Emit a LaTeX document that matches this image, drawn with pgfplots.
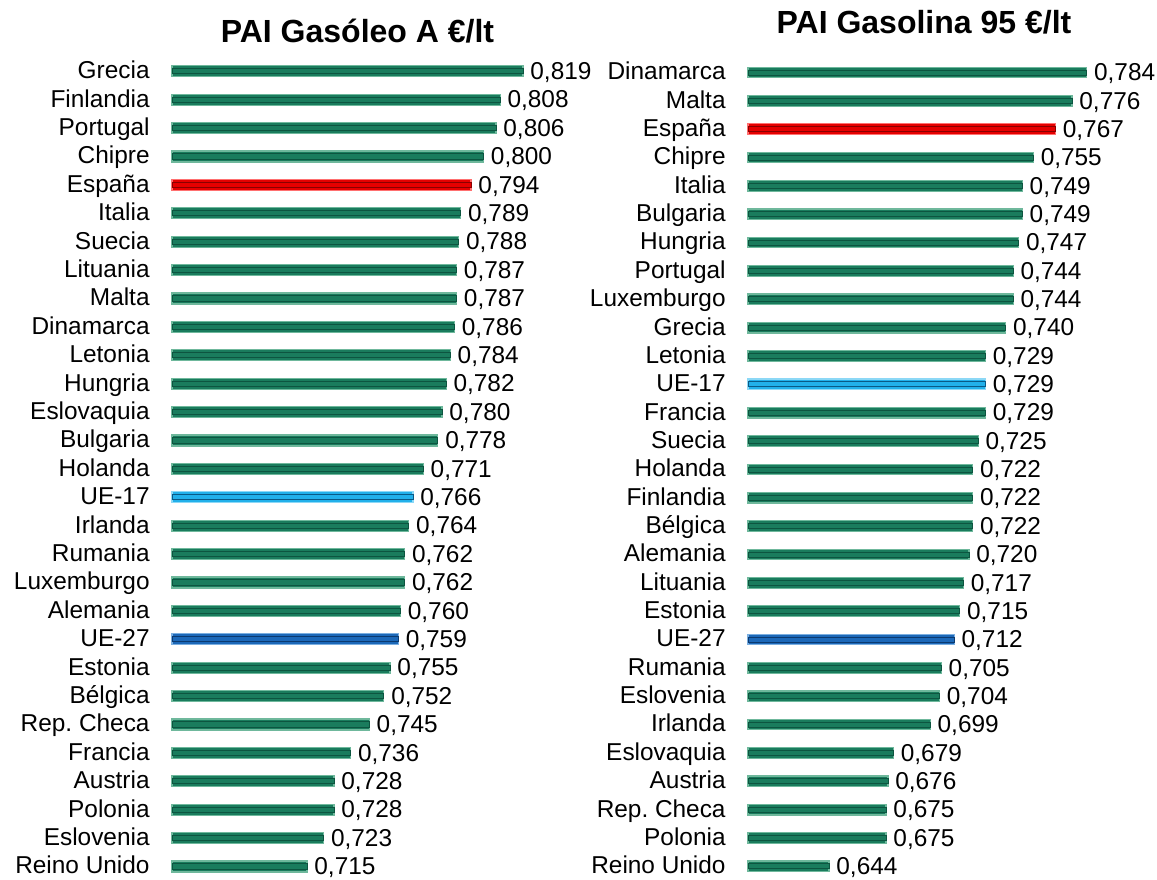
\documentclass[border=0pt]{standalone}
\usepackage{fontspec}
\setmainfont{Liberation Sans}
\usepackage{pgfplots}
\pgfplotsset{compat=1.18}
\usepackage{pgfplotstable}

\definecolor{gEdge}{HTML}{0D5540}
\definecolor{gMid}{HTML}{1A7C5D}
\definecolor{gLight}{HTML}{6FB89C}
\definecolor{rEdge}{HTML}{8A0000}
\definecolor{rMid}{HTML}{E50000}
\definecolor{rLight}{HTML}{FF7070}
\definecolor{lbEdge}{HTML}{0A5A86}
\definecolor{lbMid}{HTML}{22B0EA}
\definecolor{lbLight}{HTML}{8CD8F6}
\definecolor{dbEdge}{HTML}{0B3A70}
\definecolor{dbMid}{HTML}{1C68B8}
\definecolor{dbLight}{HTML}{7AAEE0}

% idx value (0 = top row)
\pgfplotstableread{
idx val
0  0.819
1  0.808
2  0.806
3  0.800
5  0.789
6  0.788
7  0.787
8  0.787
9  0.786
10 0.784
11 0.782
12 0.780
13 0.778
14 0.771
16 0.764
17 0.762
18 0.762
19 0.760
21 0.755
22 0.752
23 0.745
24 0.736
25 0.728
26 0.728
27 0.723
28 0.715
}\gasoleo

\pgfplotstableread{
idx val
0  0.784
1  0.776
3  0.755
4  0.749
5  0.749
6  0.747
7  0.744
8  0.744
9  0.740
10 0.729
12 0.729
13 0.725
14 0.722
15 0.722
16 0.722
17 0.720
18 0.717
19 0.715
21 0.705
22 0.704
23 0.699
24 0.679
25 0.676
26 0.675
27 0.675
28 0.644
}\gasolina

\pgfplotsset{
  panel/.style={
    scale only axis,
    y dir=reverse,
    ymin=-0.5, ymax=28.5,
    ytick={0,...,28},
    xtick=\empty,
    axis line style={draw=none},
    major tick length=0pt,
    tick style={draw=none},
    yticklabel style={font=\fontsize{12.2}{14}\selectfont, inner sep=0pt, anchor=east,
      text height=8.8pt, text depth=2.6pt, xshift=-11pt, yshift=-0.6pt},
    point meta=x,
    clip=false,
  },
  vals/.style={
    nodes near coords={\pgfmathprintnumber[fixed, zerofill, precision=3, use comma]{\pgfplotspointmeta}},
    every node near coord/.append style={font=\fontsize{12.2}{14}\selectfont, anchor=west,
      inner sep=0pt, text height=8.8pt, text depth=2.6pt, xshift=3.5pt, yshift=-1pt},
    /pgf/number format/assume math mode=true,
  },
  % outer bar: body colour with light rim; inner bar: dark stripes
  outer/.style n args={2}{xbar, bar shift=0pt, fill=#1, draw=#2, line width=0.6pt},
  inner/.style n args={2}{xbar, bar shift=0pt, fill=#1, draw=#2, line width=0.4pt},
}

\begin{document}
\begin{tikzpicture}
\useasboundingbox (0,0) rectangle (578.5pt,439.5pt);

\begin{axis}[panel,
  at={(86pt,411pt)}, anchor=north west,
  width=207.7pt, height=411.8pt,
  xmin=0.65, xmax=0.85,
  yticklabels={Grecia,Finlandia,Portugal,Chipre,España,Italia,Suecia,Lituania,Malta,Dinamarca,Letonia,Hungria,Eslovaquia,Bulgaria,Holanda,UE-17,Irlanda,Rumania,Luxemburgo,Alemania,UE-27,Estonia,Bélgica,Rep.\ Checa,Francia,Austria,Polonia,Eslovenia,Reino Unido},
  title={PAI Gasóleo A €/lt},
  title style={font=\fontsize{16}{19}\selectfont\bfseries, at={(0.4466,1)}, anchor=base, yshift=1.5pt},
]
\addplot[outer={gMid}{gLight}, bar width=5.5pt] table[x=val, y=idx] {\gasoleo};
\addplot[inner={gMid}{gEdge}, bar width=2.6pt, vals] table[x=val, y=idx] {\gasoleo};
\addplot[outer={rMid}{rLight}, bar width=5.5pt] coordinates {(0.794,4)};
\addplot[inner={rMid}{rEdge}, bar width=2.6pt, vals] coordinates {(0.794,4)};
\addplot[outer={lbMid}{lbLight}, bar width=5.5pt] coordinates {(0.766,15)};
\addplot[inner={lbMid}{lbEdge}, bar width=2.6pt, vals] coordinates {(0.766,15)};
\addplot[outer={dbMid}{dbLight}, bar width=5.5pt] coordinates {(0.759,20)};
\addplot[inner={dbMid}{dbEdge}, bar width=2.6pt, vals] coordinates {(0.759,20)};
\end{axis}

\begin{axis}[panel,
  at={(374pt,410.35pt)}, anchor=north west,
  width=184.1pt, height=411.1pt,
  xmin=0.6, xmax=0.8,
  yticklabels={Dinamarca,Malta,España,Chipre,Italia,Bulgaria,Hungria,Portugal,Luxemburgo,Grecia,Letonia,UE-17,Francia,Suecia,Holanda,Finlandia,Bélgica,Alemania,Lituania,Estonia,UE-27,Rumania,Eslovenia,Irlanda,Eslovaquia,Austria,Rep.\ Checa,Polonia,Reino Unido},
  title={PAI Gasolina 95 €/lt},
  title style={font=\fontsize{16}{19}\selectfont\bfseries, at={(0.478,1)}, anchor=base, yshift=6.65pt},
]
\addplot[outer={gMid}{gLight}, bar width=5.3pt] table[x=val, y=idx] {\gasolina};
\addplot[inner={gMid}{gEdge}, bar width=2.5pt, vals] table[x=val, y=idx] {\gasolina};
\addplot[outer={rMid}{rLight}, bar width=5.3pt] coordinates {(0.767,2)};
\addplot[inner={rMid}{rEdge}, bar width=2.5pt, vals] coordinates {(0.767,2)};
\addplot[outer={lbMid}{lbLight}, bar width=5.3pt] coordinates {(0.729,11)};
\addplot[inner={lbMid}{lbEdge}, bar width=2.5pt, vals] coordinates {(0.729,11)};
\addplot[outer={dbMid}{dbLight}, bar width=5.3pt] coordinates {(0.712,20)};
\addplot[inner={dbMid}{dbEdge}, bar width=2.5pt, vals] coordinates {(0.712,20)};
\end{axis}
\end{tikzpicture}
\end{document}
